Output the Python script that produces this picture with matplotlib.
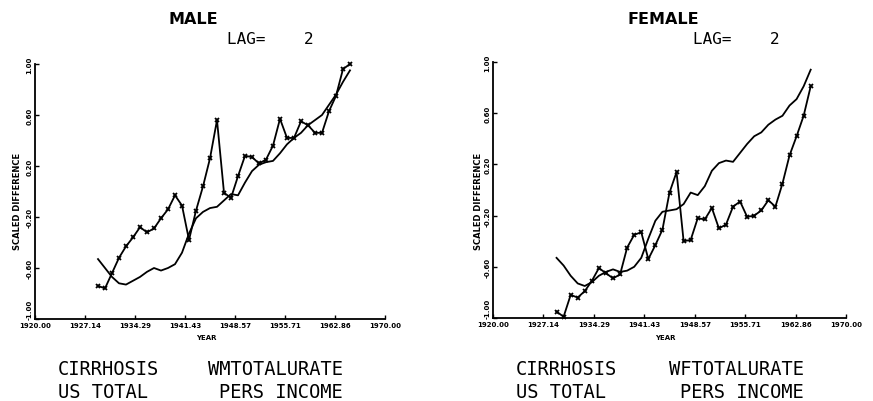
import matplotlib
matplotlib.use("Agg")
import matplotlib.pyplot as plt


YEARS = [
    1929, 1930, 1931, 1932, 1933, 1934, 1935, 1936, 1937, 1938,
    1939, 1940, 1941, 1942, 1943, 1944, 1945, 1946, 1947, 1948,
    1949, 1950, 1951, 1952, 1953, 1954, 1955, 1956, 1957, 1958,
    1959, 1960, 1961, 1962, 1963, 1964, 1965,
]

# cirrhosis (marked line), scaled difference
MALE_CIRRHOSIS = [
    -0.74, -0.76, -0.64, -0.52, -0.43, -0.36, -0.28, -0.32, -0.29, -0.21,
    -0.14, -0.03, -0.11, -0.38, -0.15, 0.04, 0.26, 0.56, -0.01, -0.05,
    0.12, 0.28, 0.27, 0.22, 0.25, 0.36, 0.57, 0.42, 0.42, 0.55,
    0.52, 0.46, 0.46, 0.63, 0.75, 0.96, 1.00,
]
# total alcohol rate / pers income (smooth line)
MALE_RATE = [
    -0.53, -0.60, -0.67, -0.72, -0.73, -0.70, -0.67, -0.63, -0.60, -0.62,
    -0.60, -0.57, -0.48, -0.33, -0.21, -0.16, -0.13, -0.12, -0.07, -0.02,
    -0.03, 0.07, 0.16, 0.21, 0.23, 0.24, 0.30, 0.37, 0.42, 0.46,
    0.52, 0.56, 0.60, 0.68, 0.76, 0.86, 0.95,
]

FEMALE_CIRRHOSIS = [
    -0.95, -0.99, -0.82, -0.84, -0.79, -0.71, -0.61, -0.65, -0.69, -0.66,
    -0.45, -0.35, -0.33, -0.54, -0.43, -0.31, -0.02, 0.14, -0.40, -0.39,
    -0.22, -0.23, -0.14, -0.30, -0.27, -0.13, -0.09, -0.21, -0.20, -0.16,
    -0.08, -0.13, 0.05, 0.27, 0.42, 0.58, 0.81,
]
FEMALE_RATE = [
    -0.53, -0.59, -0.67, -0.73, -0.75, -0.72, -0.67, -0.64, -0.62, -0.64,
    -0.63, -0.60, -0.53, -0.38, -0.24, -0.17, -0.16, -0.15, -0.11, -0.02,
    -0.04, 0.03, 0.15, 0.21, 0.23, 0.22, 0.29, 0.36, 0.42, 0.45,
    0.51, 0.55, 0.58, 0.66, 0.71, 0.81, 0.94,
]

X_TICK_LABELS = ["1920.00", "1927.14", "1934.29", "1941.43",
                 "1948.57", "1955.71", "1962.86", "1970.00"]
Y_TICK_LABELS = ["-1.00", "-0.60", "-0.20", "0.20", "0.60", "1.00"]

PANELS = [
    {
        "title": "MALE",
        "cirrhosis": MALE_CIRRHOSIS,
        "rate": MALE_RATE,
        "rate_name": "WMTOTALURATE",
        "box": (35, 65, 385, 320),
        "ylabel_x": 18,
        "title_x": 193,
        "lag_x": 227,
    },
    {
        "title": "FEMALE",
        "cirrhosis": FEMALE_CIRRHOSIS,
        "rate": FEMALE_RATE,
        "rate_name": "WFTOTALURATE",
        "box": (493, 63, 846, 319),
        "ylabel_x": 478,
        "title_x": 663,
        "lag_x": 693,
    },
]

W, H = 873, 402


def px(x, y):
    return x / W, 1 - y / H


def draw_panel(fig, panel):
    left, top, right, bottom = panel["box"]
    ax = fig.add_axes([left / W, 1 - bottom / H, (right - left) / W, (bottom - top) / H])

    ax.plot(YEARS, panel["rate"], color="black", lw=1.3, clip_on=False)
    ax.plot(YEARS, panel["cirrhosis"], color="black", lw=1.3, clip_on=False,
            marker="x", markersize=3.5, markeredgewidth=1.3)

    ax.set_xlim(1920, 1970)
    ax.set_ylim(-1, 1)
    ax.spines["top"].set_visible(False)
    ax.spines["right"].set_visible(False)
    for side in ["left", "bottom"]:
        ax.spines[side].set_linewidth(1.3)

    ax.set_xticks([float(t) for t in X_TICK_LABELS])
    ax.set_xticklabels(X_TICK_LABELS, fontsize=5, fontweight="bold")
    ax.set_yticks([float(t) for t in Y_TICK_LABELS])
    ylabels = ax.set_yticklabels(Y_TICK_LABELS, fontsize=5, fontweight="bold",
                                 rotation=90, va="center")
    # bottom label sits just above the corner so it clears "1920.00"
    ylabels[0].set_va("bottom")
    ax.tick_params(direction="in", length=3, width=1, pad=2)

    fig.text(*px(panel["ylabel_x"], 201), "SCALED DIFFERENCE", rotation=90,
             fontsize=6, fontweight="bold", ha="center", va="center")
    fig.text(*px((left + right) / 2 - 4, 338), "YEAR", fontsize=5,
             fontweight="bold", ha="center", va="center")

    fig.text(*px(panel["title_x"], 19), panel["title"], fontsize=11.5,
             fontweight="bold", ha="center", va="center")
    fig.text(*px(panel["lag_x"], 39), "LAG=    2", fontsize=11.5,
             family="DejaVu Sans Mono", ha="left", va="center")

    mono = dict(fontsize=13.5, family="DejaVu Sans Mono", va="center")
    fig.text(*px(left + 23, 370), "CIRRHOSIS", ha="left", **mono)
    fig.text(*px(left + 23, 393), "US TOTAL", ha="left", **mono)
    fig.text(*px(right - 42, 370), panel["rate_name"], ha="right", **mono)
    fig.text(*px(right - 42, 393), "PERS INCOME", ha="right", **mono)


def main():
    fig = plt.figure(figsize=(W / 100, H / 100), dpi=100)
    for panel in PANELS:
        draw_panel(fig, panel)
    fig.savefig("out.png", dpi=100)
    plt.close(fig)


if __name__ == "__main__":
    main()
